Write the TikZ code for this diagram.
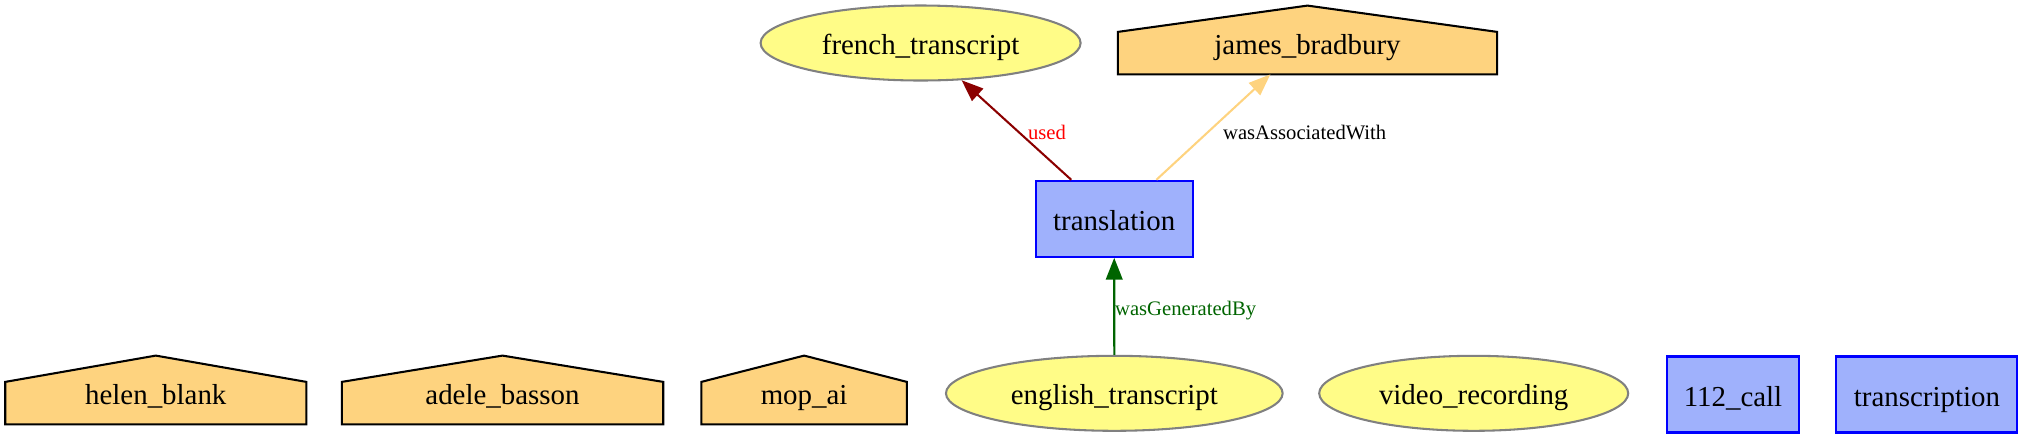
\documentclass[tikz,border=0pt]{standalone}
\usepackage{fontspec}
\setmainfont{Liberation Serif}
\usetikzlibrary{shapes.geometric,arrows.meta,calc,backgrounds}
\definecolor{entityfill}{HTML}{FFFC87}
\definecolor{entityline}{HTML}{808080}
\definecolor{activityfill}{HTML}{9FB1FC}
\definecolor{activityline}{HTML}{0000FF}
\definecolor{agentfill}{HTML}{FED37F}
\definecolor{usedline}{HTML}{8B0000}
\definecolor{usedtext}{HTML}{FF0000}
\definecolor{genline}{HTML}{006400}
\def\pxu{0.4844pt}
\newcommand\housebg[1]{%
  \begin{pgfonlayer}{background}
    \filldraw[agentshape] (#1.south west) -- (#1.south east) -- ($(#1.north east)+(0,26.3)$) -- (#1.north) -- ($(#1.north west)+(0,26.3)$) -- cycle;
  \end{pgfonlayer}}
\tikzset{
  every node/.style={font=\fontsize{14pt}{16pt}\selectfont, inner sep=0pt, text height=14.3pt, text depth=3pt},
  entity/.style={ellipse, draw=entityline, fill=entityfill, line width=1pt, minimum height=75*\pxu},
  activity/.style={rectangle, draw=activityline, fill=activityfill, line width=1pt, minimum height=76*\pxu},
  agent/.style={rectangle, minimum height=68*\pxu, text height=17.5pt},
  agentshape/.style={draw=black, fill=agentfill, line width=1pt},
  elabel/.style={font=\fontsize{10pt}{12pt}\selectfont, anchor=base},
  usededge/.style={draw=usedline, line width=1pt, -{Triangle[length=10.5pt,width=8pt]}},
  assocedge/.style={draw=agentfill, line width=1pt, -{Triangle[length=10.5pt,width=8pt]}},
  genedge/.style={draw=genline, line width=1pt, -{Triangle[length=10.5pt,width=8pt]}},
}
\begin{document}
\begin{tikzpicture}[x=0.4844pt, y=-0.4844pt]
\useasboundingbox (0,0) rectangle (2025,442);
% top row
\node[entity, minimum width=320*\pxu] (french) at (920.6,43) {french\_transcript};
\node[agent, minimum width=378.4*\pxu] (james) at (1307.5,40) {james\_bradbury};
\housebg{james}
% middle
\node[activity, minimum width=157*\pxu] (translation) at (1114.2,218.8) {translation};
% bottom row
\node[agent, minimum width=300.3*\pxu] (helen) at (155.8,390) {helen\_blank};
\housebg{helen}
\node[agent, minimum width=320.6*\pxu] (adele) at (502.5,390) {adele\_basson};
\housebg{adele}
\node[agent, minimum width=204.8*\pxu] (mop) at (804.1,390) {mop\_ai};
\housebg{mop}
\node[entity, minimum width=336.7*\pxu] (english) at (1114.3,393.3) {english\_transcript};
\node[entity, minimum width=309*\pxu] (video) at (1473.7,393.3) {video\_recording};
\node[activity, minimum width=132.7*\pxu] (call) at (1733,394.5) {112\_call};
\node[activity, minimum width=181*\pxu] (transcription) at (1926.9,394.5) {transcription};
% edges
\draw[usededge] (translation) -- (french);
\draw[assocedge] (translation) -- (james);
\draw[genedge] (english) -- (translation);
% edge labels
\node[elabel, text=usedtext] (lused) at (1047,139.3) {used};
\node[elabel] (lassoc) at (1304.7,139.3) {wasAssociatedWith};
\node[elabel, text=genline] (lgen) at (1185.6,315) {wasGeneratedBy};
\end{tikzpicture}
\end{document}
